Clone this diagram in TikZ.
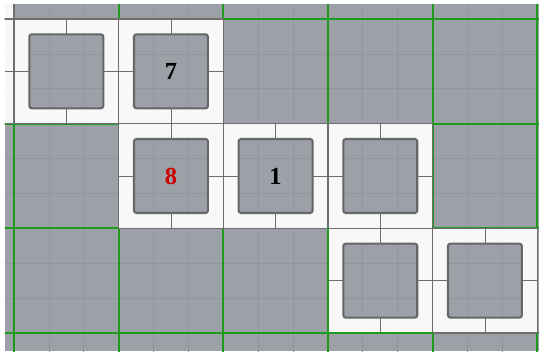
\documentclass[tikz,border=0pt]{standalone}
\usepackage{fontspec}
\setmainfont{Liberation Serif}
\definecolor{bggray}{HTML}{9CA1A8}
\definecolor{finegrid}{HTML}{91969D}
\definecolor{gridgreen}{HTML}{1E9A1E}
\definecolor{tilewhite}{HTML}{F8F8F8}
\definecolor{tileline}{HTML}{6E6E6E}
\definecolor{roomline}{HTML}{666666}
\definecolor{numred}{HTML}{CC0000}
\begin{document}
\begin{tikzpicture}[
    tilebox/.style={draw=tileline, line width=1.2pt, minimum size=3cm, inner sep=0pt, outer sep=0pt},
    roombox/.style={draw=roomline, line width=1.7pt, rounded corners=2pt, minimum size=2.12cm, inner sep=0pt, outer sep=0pt},
    link/.style={draw=tileline, line width=0.6pt},
    numtext/.style={font=\fontsize{20}{24}\selectfont\bfseries}]
    % Bounding box and background
    \useasboundingbox (-0.401,-9.60) rectangle (15.05,0.545);
    \clip (-0.258,-9.52) rectangle (15.05,0.43);
    \fill[bggray] (-0.258,-9.52) rectangle (15.05,0.43);

    % Fine grid and coarse grid
    \draw[finegrid, line width=0.6pt, step=1] (-1,-10) grid (16,1);
    \draw[gridgreen, line width=1.7pt, step=3] (-3,-12) grid (18,3);

    % Tiles of the path
    \foreach \c/\r [count=\i] in {-1/-1, -1/0, 0/0, 1/0, 1/1, 2/1, 3/1, 3/2, 4/2} {
        \fill[tilewhite, even odd rule] (3*\c,-3*\r) rectangle ++(3,-3)
            [rounded corners=2pt] (3*\c+0.44,-3*\r-0.44) rectangle ++(2.12,-2.12);
        \node[tilebox] (tile\i) at (3*\c+1.5,-3*\r-1.5) {};
        \node[roombox] (room\i) at (tile\i.center) {};
        \foreach \side in {north,south,east,west}
            \draw[link] (room\i.\side) -- (tile\i.\side);
    }

    % Green edges left open
    \draw[gridgreen, line width=1.7pt] (tile8.north west) -- (tile8.south west) -- (tile8.south east);

    % Numbers
    \node[numtext] (seven) at (tile4.center) {7};
    \node[numtext, text=numred] (eight) at (tile5.center) {8};
    \node[numtext] (one) at (tile6.center) {1};
\end{tikzpicture}
\end{document}
